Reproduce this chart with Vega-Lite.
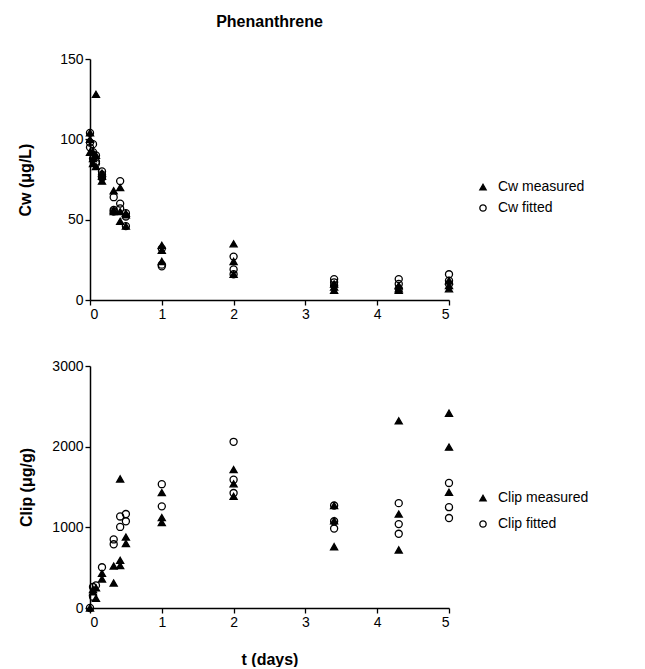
{
  "$schema": "https://vega.github.io/schema/vega-lite/v6.json",
  "padding": {"left": 17, "top": 14, "right": 5, "bottom": 0},
  "background": "white",
  "config": {
    "font": "Liberation Sans",
    "view": {"stroke": null},
    "axis": {
      "grid": false,
      "domainColor": "black",
      "domainWidth": 1.5,
      "tickColor": "black",
      "tickWidth": 1.3,
      "tickSize": 5,
      "labelColor": "black",
      "labelFont": "Liberation Sans",
      "labelFontSize": 14,
      "labelPadding": 2,
      "titleFont": "Liberation Sans",
      "titleFontSize": 16,
      "titleFontWeight": "bold",
      "titleColor": "black"
    },
    "legend": {
      "labelFont": "Liberation Sans",
      "labelFontSize": 14,
      "labelColor": "black",
      "labelOffset": 8,
      "symbolStrokeWidth": 1.3
    }
  },
  "spacing": 38,
  "vconcat": [
    {
      "width": 359,
      "height": 241,
      "title": {"text": "Phenanthrene", "fontSize": 16, "fontWeight": "bold", "anchor": "middle", "offset": 22, "color": "black"},
      "data": {"values": [
        {"t": 0, "c": 104, "s": "Cw measured"},
        {"t": 0, "c": 100, "s": "Cw measured"},
        {"t": 0, "c": 92, "s": "Cw measured"},
        {"t": 0.042, "c": 92, "s": "Cw measured"},
        {"t": 0.042, "c": 88, "s": "Cw measured"},
        {"t": 0.042, "c": 85, "s": "Cw measured"},
        {"t": 0.083, "c": 128, "s": "Cw measured"},
        {"t": 0.083, "c": 90, "s": "Cw measured"},
        {"t": 0.083, "c": 83, "s": "Cw measured"},
        {"t": 0.167, "c": 79, "s": "Cw measured"},
        {"t": 0.167, "c": 77, "s": "Cw measured"},
        {"t": 0.167, "c": 74, "s": "Cw measured"},
        {"t": 0.33, "c": 68, "s": "Cw measured"},
        {"t": 0.33, "c": 56, "s": "Cw measured"},
        {"t": 0.33, "c": 55, "s": "Cw measured"},
        {"t": 0.42, "c": 70, "s": "Cw measured"},
        {"t": 0.42, "c": 55, "s": "Cw measured"},
        {"t": 0.42, "c": 49, "s": "Cw measured"},
        {"t": 0.5, "c": 54, "s": "Cw measured"},
        {"t": 0.5, "c": 53, "s": "Cw measured"},
        {"t": 0.5, "c": 46, "s": "Cw measured"},
        {"t": 1, "c": 34, "s": "Cw measured"},
        {"t": 1, "c": 31, "s": "Cw measured"},
        {"t": 1, "c": 24, "s": "Cw measured"},
        {"t": 2, "c": 35, "s": "Cw measured"},
        {"t": 2, "c": 24, "s": "Cw measured"},
        {"t": 2, "c": 16, "s": "Cw measured"},
        {"t": 3.4, "c": 8, "s": "Cw measured"},
        {"t": 3.4, "c": 6, "s": "Cw measured"},
        {"t": 3.4, "c": 10, "s": "Cw measured"},
        {"t": 4.3, "c": 9, "s": "Cw measured"},
        {"t": 4.3, "c": 6, "s": "Cw measured"},
        {"t": 4.3, "c": 7, "s": "Cw measured"},
        {"t": 5, "c": 12, "s": "Cw measured"},
        {"t": 5, "c": 7, "s": "Cw measured"},
        {"t": 5, "c": 9, "s": "Cw measured"},
        {"t": 0, "c": 104, "s": "Cw fitted"},
        {"t": 0, "c": 98, "s": "Cw fitted"},
        {"t": 0, "c": 95, "s": "Cw fitted"},
        {"t": 0.042, "c": 97, "s": "Cw fitted"},
        {"t": 0.042, "c": 92, "s": "Cw fitted"},
        {"t": 0.042, "c": 88, "s": "Cw fitted"},
        {"t": 0.083, "c": 90, "s": "Cw fitted"},
        {"t": 0.083, "c": 86, "s": "Cw fitted"},
        {"t": 0.083, "c": 85, "s": "Cw fitted"},
        {"t": 0.167, "c": 80, "s": "Cw fitted"},
        {"t": 0.167, "c": 78, "s": "Cw fitted"},
        {"t": 0.167, "c": 76, "s": "Cw fitted"},
        {"t": 0.33, "c": 64, "s": "Cw fitted"},
        {"t": 0.33, "c": 56, "s": "Cw fitted"},
        {"t": 0.33, "c": 55, "s": "Cw fitted"},
        {"t": 0.42, "c": 74, "s": "Cw fitted"},
        {"t": 0.42, "c": 60, "s": "Cw fitted"},
        {"t": 0.42, "c": 57, "s": "Cw fitted"},
        {"t": 0.5, "c": 54, "s": "Cw fitted"},
        {"t": 0.5, "c": 52, "s": "Cw fitted"},
        {"t": 0.5, "c": 46, "s": "Cw fitted"},
        {"t": 1, "c": 32, "s": "Cw fitted"},
        {"t": 1, "c": 22, "s": "Cw fitted"},
        {"t": 1, "c": 21, "s": "Cw fitted"},
        {"t": 2, "c": 27, "s": "Cw fitted"},
        {"t": 2, "c": 19, "s": "Cw fitted"},
        {"t": 2, "c": 16, "s": "Cw fitted"},
        {"t": 3.4, "c": 13, "s": "Cw fitted"},
        {"t": 3.4, "c": 11, "s": "Cw fitted"},
        {"t": 3.4, "c": 9, "s": "Cw fitted"},
        {"t": 4.3, "c": 13, "s": "Cw fitted"},
        {"t": 4.3, "c": 10, "s": "Cw fitted"},
        {"t": 4.3, "c": 7, "s": "Cw fitted"},
        {"t": 5, "c": 16, "s": "Cw fitted"},
        {"t": 5, "c": 12, "s": "Cw fitted"},
        {"t": 5, "c": 10, "s": "Cw fitted"}
      ]},
      "mark": {"type": "point", "filled": false, "strokeWidth": 1.3, "size": 50, "opacity": 1},
      "encoding": {
        "x": {"field": "t", "type": "quantitative", "scale": {"domain": [0, 5], "nice": false},
              "axis": {"values": [0, 1, 2, 3, 4, 5], "title": null}},
        "y": {"field": "c", "type": "quantitative", "scale": {"domain": [0, 150], "nice": false},
              "axis": {"values": [0, 50, 100, 150], "format": "d", "title": "Cw (μg/L)", "titlePadding": 26}},
        "shape": {"field": "s", "type": "nominal",
                  "scale": {"domain": ["Cw measured", "Cw fitted"], "range": ["triangle-up", "circle"]},
                  "legend": {"title": null, "orient": "none", "legendX": 386, "legendY": 121, "symbolSize": 40, "rowPadding": 7}},
        "fill": {"field": "s", "type": "nominal",
                 "scale": {"domain": ["Cw measured", "Cw fitted"], "range": ["black", "transparent"]},
                 "legend": {"title": null, "orient": "none", "legendX": 386, "legendY": 121, "symbolSize": 40, "rowPadding": 7}},
        "stroke": {"field": "s", "type": "nominal",
                 "scale": {"domain": ["Cw measured", "Cw fitted"], "range": ["black", "black"]},
                 "legend": {"title": null, "orient": "none", "legendX": 386, "legendY": 121, "symbolSize": 40, "rowPadding": 7}}
      }
    },
    {
      "width": 359,
      "height": 242,
      "data": {"values": [
        {"t": 0, "c": 0, "s": "Clip measured"},
        {"t": 0.042, "c": 200, "s": "Clip measured"},
        {"t": 0.042, "c": 230, "s": "Clip measured"},
        {"t": 0.083, "c": 120, "s": "Clip measured"},
        {"t": 0.083, "c": 250, "s": "Clip measured"},
        {"t": 0.167, "c": 430, "s": "Clip measured"},
        {"t": 0.167, "c": 360, "s": "Clip measured"},
        {"t": 0.33, "c": 520, "s": "Clip measured"},
        {"t": 0.33, "c": 310, "s": "Clip measured"},
        {"t": 0.42, "c": 1600, "s": "Clip measured"},
        {"t": 0.42, "c": 590, "s": "Clip measured"},
        {"t": 0.42, "c": 525, "s": "Clip measured"},
        {"t": 0.5, "c": 880, "s": "Clip measured"},
        {"t": 0.5, "c": 800, "s": "Clip measured"},
        {"t": 1, "c": 1430, "s": "Clip measured"},
        {"t": 1, "c": 1120, "s": "Clip measured"},
        {"t": 1, "c": 1060, "s": "Clip measured"},
        {"t": 2, "c": 1715, "s": "Clip measured"},
        {"t": 2, "c": 1540, "s": "Clip measured"},
        {"t": 2, "c": 1385, "s": "Clip measured"},
        {"t": 3.4, "c": 1270, "s": "Clip measured"},
        {"t": 3.4, "c": 1080, "s": "Clip measured"},
        {"t": 3.4, "c": 760, "s": "Clip measured"},
        {"t": 4.3, "c": 2320, "s": "Clip measured"},
        {"t": 4.3, "c": 1165, "s": "Clip measured"},
        {"t": 4.3, "c": 720, "s": "Clip measured"},
        {"t": 5, "c": 2415, "s": "Clip measured"},
        {"t": 5, "c": 1995, "s": "Clip measured"},
        {"t": 5, "c": 1435, "s": "Clip measured"},
        {"t": 0, "c": 0, "s": "Clip fitted"},
        {"t": 0.042, "c": 140, "s": "Clip fitted"},
        {"t": 0.042, "c": 260, "s": "Clip fitted"},
        {"t": 0.083, "c": 280, "s": "Clip fitted"},
        {"t": 0.167, "c": 505, "s": "Clip fitted"},
        {"t": 0.33, "c": 850, "s": "Clip fitted"},
        {"t": 0.33, "c": 790, "s": "Clip fitted"},
        {"t": 0.42, "c": 1135, "s": "Clip fitted"},
        {"t": 0.42, "c": 1005, "s": "Clip fitted"},
        {"t": 0.5, "c": 1165, "s": "Clip fitted"},
        {"t": 0.5, "c": 1075, "s": "Clip fitted"},
        {"t": 1, "c": 1535, "s": "Clip fitted"},
        {"t": 1, "c": 1260, "s": "Clip fitted"},
        {"t": 2, "c": 2060, "s": "Clip fitted"},
        {"t": 2, "c": 1590, "s": "Clip fitted"},
        {"t": 2, "c": 1425, "s": "Clip fitted"},
        {"t": 3.4, "c": 1270, "s": "Clip fitted"},
        {"t": 3.4, "c": 1075, "s": "Clip fitted"},
        {"t": 3.4, "c": 985, "s": "Clip fitted"},
        {"t": 4.3, "c": 1300, "s": "Clip fitted"},
        {"t": 4.3, "c": 1040, "s": "Clip fitted"},
        {"t": 4.3, "c": 920, "s": "Clip fitted"},
        {"t": 5, "c": 1550, "s": "Clip fitted"},
        {"t": 5, "c": 1250, "s": "Clip fitted"},
        {"t": 5, "c": 1115, "s": "Clip fitted"}
      ]},
      "mark": {"type": "point", "filled": false, "strokeWidth": 1.3, "size": 50, "opacity": 1},
      "encoding": {
        "x": {"field": "t", "type": "quantitative", "scale": {"domain": [0, 5], "nice": false},
              "axis": {"values": [0, 1, 2, 3, 4, 5], "title": "t (days)", "titlePadding": 22}},
        "y": {"field": "c", "type": "quantitative", "scale": {"domain": [0, 3000], "nice": false},
              "axis": {"values": [0, 1000, 2000, 3000], "format": "d", "title": "Clip (μg/g)", "titlePadding": 17}},
        "shape": {"field": "s", "type": "nominal",
                  "scale": {"domain": ["Clip measured", "Clip fitted"], "range": ["triangle-up", "circle"]},
                  "legend": {"title": null, "orient": "none", "legendX": 386, "legendY": 125, "symbolSize": 40, "rowPadding": 12}},
        "fill": {"field": "s", "type": "nominal",
                 "scale": {"domain": ["Clip measured", "Clip fitted"], "range": ["black", "transparent"]},
                 "legend": {"title": null, "orient": "none", "legendX": 386, "legendY": 125, "symbolSize": 40, "rowPadding": 12}},
        "stroke": {"field": "s", "type": "nominal",
                 "scale": {"domain": ["Clip measured", "Clip fitted"], "range": ["black", "black"]},
                 "legend": {"title": null, "orient": "none", "legendX": 386, "legendY": 125, "symbolSize": 40, "rowPadding": 12}}
      }
    }
  ],
  "resolve": {"scale": {"shape": "independent", "fill": "independent", "stroke": "independent"}, "legend": {"shape": "independent", "fill": "independent", "stroke": "independent"}}
}
